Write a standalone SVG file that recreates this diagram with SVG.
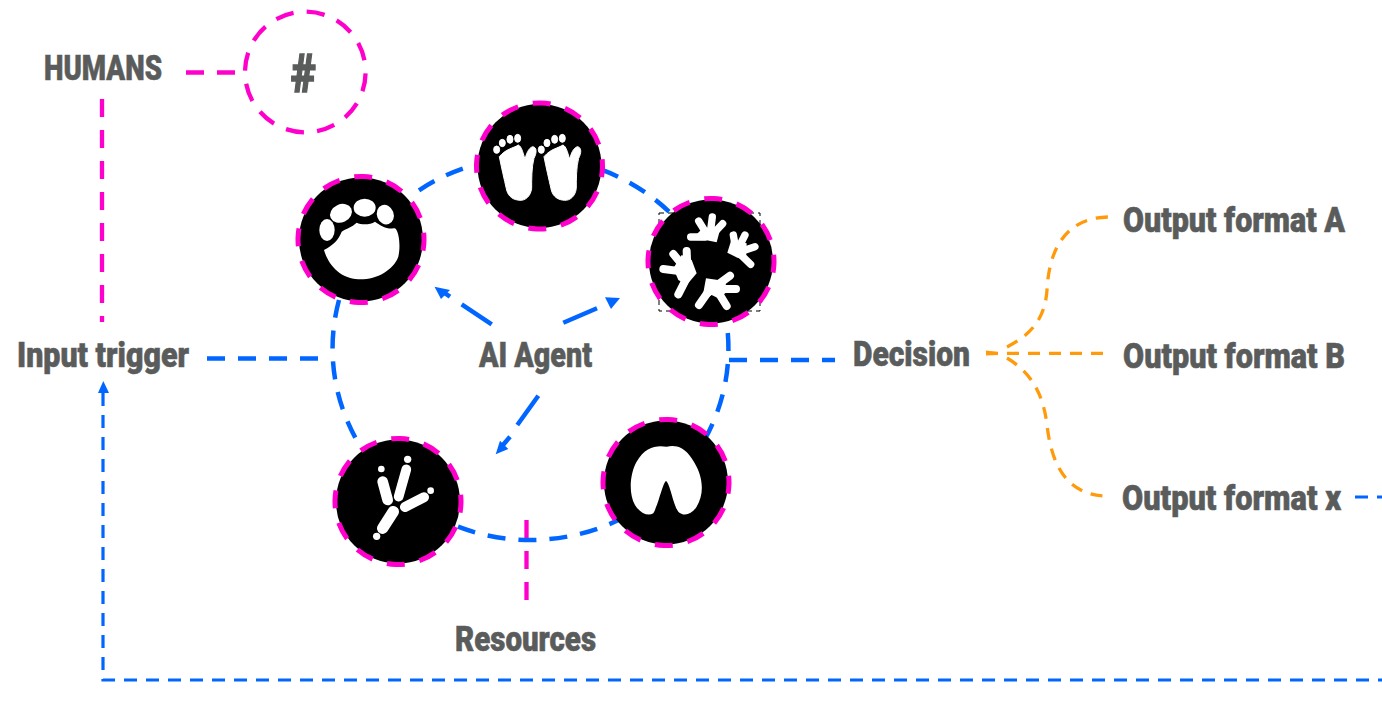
<svg xmlns="http://www.w3.org/2000/svg" width="1382" height="704" viewBox="0 0 1382 704">
<style>
text{font-family:"Roboto","Liberation Sans",sans-serif;font-weight:900;fill:#5a5c5c;stroke:#5a5c5c;stroke-width:.6;font-size:35px}
.b{fill:none;stroke:#0066ff;stroke-width:4.500;stroke-dasharray:18 13}
.l{fill:none;stroke:#0066ff;stroke-width:4.500}
.m{fill:none;stroke:#ff00cc;stroke-width:4.300;stroke-dasharray:18 13}
.t{fill:none;stroke:#0066ff;stroke-width:3.200;stroke-dasharray:13 9}
.o{fill:none;stroke:#ff9a0a;stroke-width:3.300;stroke-dasharray:12 9}
.a{fill:#0066ff}
.disc{fill:#000}
.ring{fill:none;stroke:#ff00cc;stroke-width:5;stroke-dasharray:18 15;stroke-dashoffset:9}
.w{fill:#fff}
.ws{fill:none;stroke:#fff;stroke-linecap:round;stroke-linejoin:round}
</style>
<defs>
<g id="foot" stroke="#fff" stroke-width="3" stroke-linejoin="round"><path class="w" d="M658 200C680 175 700 175 715 165C725 170 728 185 735 207C740 190 745 175 758 170C772 172 770 190 762 205C755 230 755 270 755 295C752 320 735 332 720 331C700 330 685 320 680 300C672 265 665 235 658 200Z"/><ellipse class="w" cx="650" cy="179" rx="9" ry="11"/><ellipse class="w" cx="667" cy="159" rx="9" ry="11"/><ellipse class="w" cx="690" cy="148" rx="9" ry="12"/><ellipse class="w" cx="713" cy="145" rx="9" ry="12"/></g>
</defs>
<g id="connectors">
<path class="m" d="M526.500 520V601"/>
<path class="b" d="M339 300A198 191.500 0 0 0 356.600 440"/>
<path class="b" d="M419 190.300A198 191.500 0 0 1 475 164.700"/>
<path class="b" d="M669 211.600A198 191.500 0 0 0 600 169.200"/>
<path class="b" d="M727.800 333A198 191.500 0 0 1 704.400 440"/>
<path class="b" d="M458 526.700A198 191.500 0 0 0 620 519.300"/>
<path class="m" d="M186 72.500H245"/>
<path class="m" d="M102 99V322"/>
<path class="b" d="M207 358.500H319"/>
<path class="b" d="M729 360H835"/>
<path class="l" d="M491.700 324.300L461.700 304.300"/><path class="l" d="M450 296.700L443 292"/><path class="a" d="M434.500 286.700L450 290L441 299Z"/>
<path class="l" d="M563.300 322.700L597 308.300"/><path class="a" d="M605 297.300L620 298L611 309Z"/>
<path class="l" d="M538.300 395.700L517.300 425"/><path class="l" d="M510 436.700L503 445"/><path class="a" d="M495.700 454.300L500 440.700L508.300 449Z"/>
<path class="t" d="M103 393V680H1382"/><path class="a" d="M103.300 381L98 393H109Z"/>
<path class="t" d="M1355 497H1382"/>
<path class="o" d="M986 353.300H1104"/>
<path class="o" d="M1007 347C1030 335 1045 320 1047 290C1049 250 1065 218 1108 217"/>
<path class="o" d="M1007 358C1030 372 1043 392 1047 425C1052 470 1070 494 1104 496"/>
<path d="M986 350.500L998 352V355L986 355.500Z" fill="#ff9a0a"/>
</g>
<g id="humans"><text x="44" y="80" textLength="118" lengthAdjust="spacingAndGlyphs">HUMANS</text></g>
<g id="hash"><circle class="m" cx="305.300" cy="72" r="60.300" pathLength="372" transform="rotate(-88.700 305.300 72)"/><text x="291" y="92" textLength="25" lengthAdjust="spacingAndGlyphs" style="font-size:54px;stroke-width:1.500">#</text></g>
<g id="input-trigger"><text x="17" y="367" textLength="172" lengthAdjust="spacingAndGlyphs">Input trigger</text></g>
<g id="ai-agent"><text x="479" y="367" textLength="113" lengthAdjust="spacingAndGlyphs">AI Agent</text></g>
<g id="decision"><text x="853" y="366" textLength="117" lengthAdjust="spacingAndGlyphs">Decision</text></g>
<g id="output-a"><text x="1123" y="232" textLength="222" lengthAdjust="spacingAndGlyphs">Output format A</text></g>
<g id="output-b"><text x="1123" y="368" textLength="222" lengthAdjust="spacingAndGlyphs">Output format B</text></g>
<g id="output-x"><text x="1122" y="510" textLength="219" lengthAdjust="spacingAndGlyphs">Output format x</text></g>
<g id="resources"><text x="455" y="651" textLength="141" lengthAdjust="spacingAndGlyphs">Resources</text></g>
<g id="node-feet"><circle class="disc" cx="539.500" cy="166" r="62"/><circle class="ring" cx="539.500" cy="166" r="63" pathLength="396" transform="rotate(2 539.500 166)"/>
<g transform="translate(280 90) scale(.3333)"><use href="#foot"/><use href="#foot" x="134"/></g></g>
<g id="node-paw"><circle class="disc" cx="361" cy="239.500" r="62"/><circle class="ring" cx="361" cy="239.500" r="63" pathLength="396" transform="rotate(2 361 239.500)"/>
<g transform="translate(280 90) scale(.3333)"><path class="w" d="M132 480C160 465 175 450 185 425C200 415 215 412 230 398C245 405 270 405 285 395C300 405 315 418 345 415C358 425 362 470 355 500C340 540 290 570 235 568C180 565 145 525 132 480Z"/><ellipse class="w" cx="141" cy="420" rx="23" ry="33"/><ellipse class="w" cx="183" cy="370" rx="34" ry="27" transform="rotate(-25 183 370)"/><ellipse class="w" cx="254" cy="353" rx="33" ry="27"/><ellipse class="w" cx="316" cy="374" rx="25" ry="30" transform="rotate(-20 316 374)"/></g></g>
<g id="node-frog"><rect x="659" y="213" width="101" height="98" fill="none" stroke="#000" stroke-width="1" stroke-dasharray="5 4"/><circle class="disc" cx="711" cy="261.500" r="62"/><circle class="ring" cx="711" cy="261.500" r="63" pathLength="396" transform="rotate(2 711 261.500)"/>
<g transform="translate(650 205) scale(.3333)"><path class="w" d="M140 88L160 68L210 75L200 112L170 106L130 105Z"/><path class="ws" stroke-width="22" d="M172 90L146 48M180 90L187 36M188 88L218 56M165 96L122 96"/>
<path class="w" d="M232 143L244 105L290 115L288 165L262 158Z"/><path class="ws" stroke-width="22" d="M258 135L250 90M265 130L285 90M270 140L315 125M268 145L302 178"/>
<path class="w" d="M70 190L95 150L125 165L140 205L110 240L85 225Z"/><path class="ws" stroke-width="24" d="M105 190L70 147M112 190L110 138M100 200L40 192M112 215L85 268"/>
<path class="w" d="M168 220L225 228L232 260L205 280L185 270L155 290Z"/><path class="ws" stroke-width="24" d="M195 245L240 212M200 252L258 252M205 262L230 303M175 260L147 300"/></g></g>
<g id="node-hoof"><circle class="disc" cx="666" cy="482.500" r="62"/><circle class="ring" cx="666" cy="482.500" r="63" pathLength="396" transform="rotate(2 666 482.500)"/>
<g transform="translate(320 400) scale(.3333)"><path class="w" d="M1040 140C1060 135 1090 135 1115 175C1150 225 1155 280 1130 320C1115 345 1090 350 1075 335C1060 315 1050 250 1038 243C1028 250 1015 315 1000 340C985 350 960 340 945 315C925 280 930 220 950 185C975 140 1010 135 1040 140Z"/></g></g>
<g id="node-bird"><circle class="disc" cx="398" cy="501.500" r="62"/><circle class="ring" cx="398" cy="501.500" r="63" pathLength="396" transform="rotate(2 398 501.500)"/>
<g transform="translate(320 400) scale(.3333)"><path class="ws" stroke-width="29" d="M259 208L236 290"/><path class="ws" stroke-width="32" d="M188 245L203 300"/><path class="ws" stroke-width="30" d="M255 321L312 292"/><path class="ws" stroke-width="34" d="M220 335L188 385"/><circle class="w" cx="263" cy="178" r="11"/><circle class="w" cx="184" cy="207" r="10"/><circle class="w" cx="332" cy="272" r="10"/><circle class="w" cx="170" cy="409" r="11"/></g></g>
</svg>
